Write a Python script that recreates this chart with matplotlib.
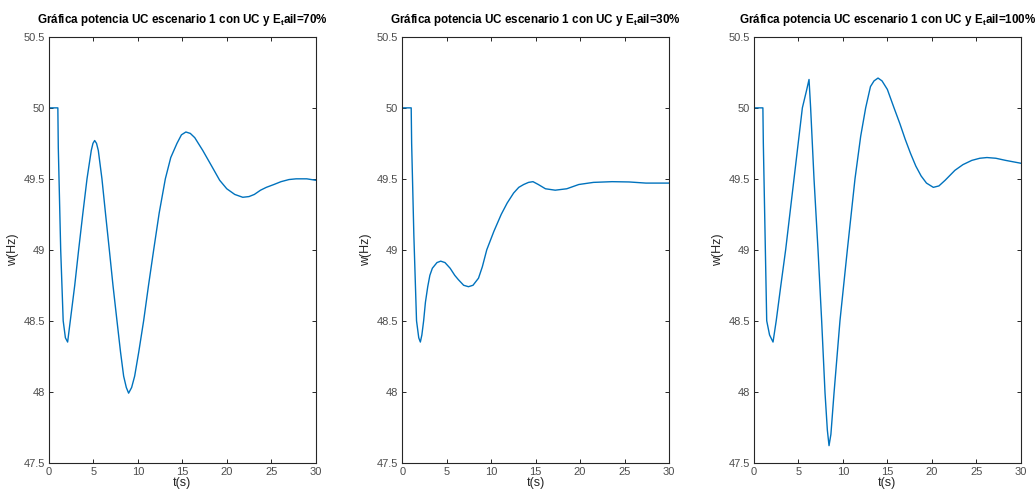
import matplotlib
matplotlib.use('Agg')
import matplotlib.pyplot as plt

# frequency response
t_70 = [0, 1.0, 1.05, 1.32, 1.6, 1.85, 2.1, 2.4, 2.9, 3.34, 3.8, 4.28, 4.76, 4.95,
        5.14, 5.35, 5.55, 5.96, 6.37, 6.79, 7.2, 7.65, 8.05, 8.4, 8.7, 8.96, 9.3, 9.64,
        10.1, 10.65, 11.2, 11.78, 12.4, 13.09, 13.7, 14.4, 14.9, 15.4, 15.9, 16.4,
        17.3, 18.3, 19.2, 20.0, 20.9, 21.8, 22.5, 23.1, 23.8, 24.45, 25.3, 26.1, 27.0,
        27.8, 29.0, 30.0]
w_70 = [50, 50, 49.72, 49.0, 48.5, 48.38, 48.35, 48.5, 48.75, 49.0, 49.25, 49.5, 49.7, 49.75,
        49.77, 49.75, 49.7, 49.5, 49.25, 49.0, 48.75, 48.5, 48.28, 48.11, 48.03, 47.99, 48.03, 48.11,
        48.28, 48.5, 48.75, 49.0, 49.26, 49.5, 49.65, 49.75, 49.81, 49.83, 49.82, 49.79,
        49.7, 49.59, 49.49, 49.43, 49.39, 49.37, 49.375, 49.39, 49.42, 49.44, 49.46, 49.48, 49.495,
        49.5, 49.5, 49.49]

t_30 = [0, 1.0, 1.05, 1.3, 1.6, 1.85, 2.03, 2.2, 2.4, 2.6, 2.86, 3.1, 3.38, 3.9, 4.32, 4.8, 5.38,
        5.9, 6.3, 6.9, 7.44, 7.95, 8.57, 9.0, 9.5, 10.3, 11.13, 11.8, 12.52, 13.1, 13.65, 14.2,
        14.7, 15.3, 16.1, 17.2, 18.5, 19.85, 21.5, 23.6, 25.5, 27.4, 30.0]
w_30 = [50, 50, 49.75, 49.1, 48.5, 48.38, 48.35, 48.4, 48.5, 48.63, 48.74, 48.82, 48.87, 48.91, 48.92,
        48.91, 48.87, 48.82, 48.79, 48.75, 48.74, 48.75, 48.8, 48.88, 49.0, 49.13, 49.25, 49.33, 49.40,
        49.44, 49.46, 49.475, 49.48, 49.46, 49.43, 49.42, 49.43, 49.46, 49.475, 49.48, 49.478,
        49.47, 49.47]

t_100 = [0, 1.0, 1.05, 1.43, 1.75, 2.14, 2.5, 3.0, 3.56, 4.5, 5.44, 5.9, 6.19, 6.37, 6.75,
         7.2, 7.61, 7.99, 8.25, 8.44, 8.65, 9.0, 9.67, 10.5, 11.36, 12.0, 12.56, 13.1, 13.5,
         13.95, 14.4, 15.0, 15.75, 16.4, 17.0, 17.6, 18.2, 18.8, 19.4, 20.17, 20.8, 21.5,
         22.6, 23.5, 24.5, 25.4, 26.2, 27.2, 28.3, 30.0]
w_100 = [50, 50, 49.75, 48.5, 48.4, 48.35, 48.5, 48.74, 49.0, 49.5, 50.0, 50.12, 50.2, 50.0, 49.5,
         49.0, 48.5, 47.99, 47.73, 47.62, 47.7, 47.99, 48.5, 49.0, 49.5, 49.8, 50.0, 50.15, 50.19,
         50.21, 50.19, 50.13, 50.0, 49.89, 49.78, 49.68, 49.59, 49.52, 49.47, 49.44, 49.45, 49.49,
         49.56, 49.6, 49.63, 49.645, 49.65, 49.645, 49.63, 49.61]

eail_labels = ['70%', '30%', '100%']
x_ticks = [0, 5, 10, 15, 20, 25, 30]
y_ticks = [47.5, 48, 48.5, 49, 49.5, 50, 50.5]
y_tick_labels = ['47.5', '48', '48.5', '49', '49.5', '50', '50.5']

plt.rcParams['font.family'] = ['Liberation Sans', 'DejaVu Sans']
plt.rcParams['mathtext.fontset'] = 'custom'
plt.rcParams['mathtext.rm'] = 'Liberation Sans'
plt.rcParams['mathtext.bf'] = 'Liberation Sans:bold'

fig = plt.figure(figsize=(10.35, 4.98), dpi=100)
lefts = [0.0473, 0.3887, 0.7285]
series = [(t_70, w_70), (t_30, w_30), (t_100, w_100)]

for left, (t, w), lab in zip(lefts, series, eail_labels):
    ax = fig.add_axes([left, 0.0709, 0.2577, 0.855])
    ax.plot(t, w, color='#0072BD', linewidth=1.0)
    ax.set_xlim(0, 30)
    ax.set_ylim(47.5, 50.5)
    ax.set_xticks(x_ticks)
    ax.set_yticks(y_ticks)
    ax.set_yticklabels(y_tick_labels)
    ax.tick_params(direction='in', length=3, width=0.7, top=True, right=True,
                   labelsize=8, labelcolor='#4d4d4d', color='#262626', pad=3)
    for sp in ax.spines.values():
        sp.set_color('#262626')
        sp.set_linewidth(0.8)
    ax.set_xlabel('t(s)', fontsize=9, color='#262626', labelpad=0)
    ax.set_ylabel('w(Hz)', fontsize=9, color='#262626', labelpad=3)
    ax.set_title('Gráfica potencia UC escenario 1 con UC y E$_\\mathbf{t}$ail=' + lab,
                 fontsize=8.4, fontweight='bold', pad=10, color='black')

fig.savefig('out.png', dpi=100)
